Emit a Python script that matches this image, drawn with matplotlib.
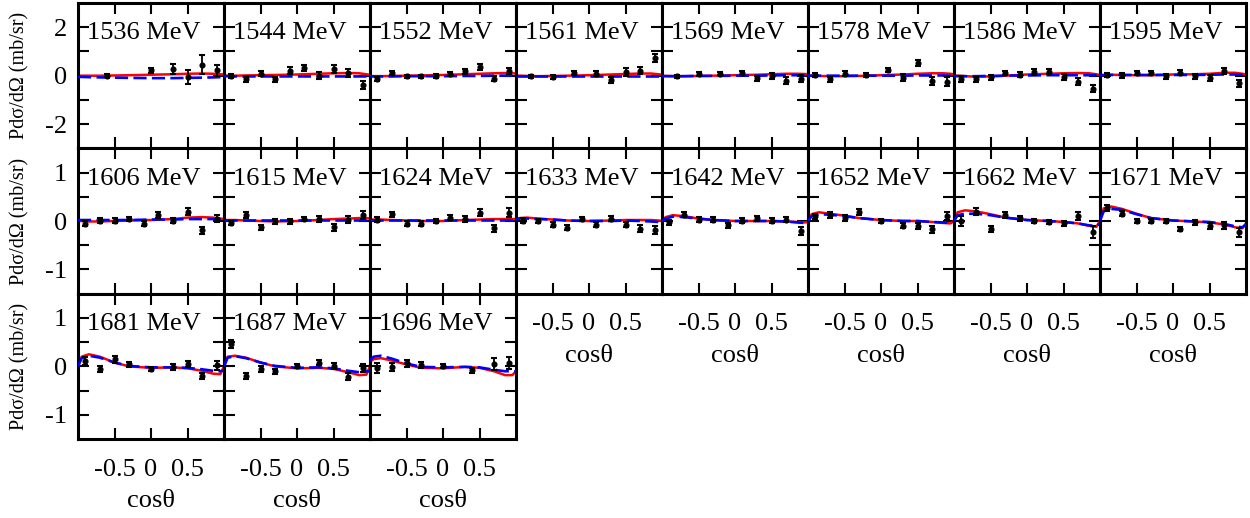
import matplotlib
matplotlib.use('Agg')
import matplotlib.pyplot as plt

plt.rcParams['font.family'] = ['Liberation Serif', 'DejaVu Serif']

# beam energies (MeV), one panel each
energies = [1536, 1544, 1552, 1561, 1569, 1578, 1586, 1595,
            1606, 1615, 1624, 1633, 1642, 1652, 1662, 1671,
            1681, 1687, 1696]

g10 = [-0.9, -0.7, -0.5, -0.3, -0.1, 0.1, 0.3, 0.5, 0.7, 0.9]

# measured points: cos(theta), P dsigma/dOmega, error
data_x = [
    [-0.6, 0.0, 0.3, 0.5, 0.7, 0.9],
    g10,
    g10,
    [-0.8, -0.5, -0.2, 0.1, 0.3, 0.5, 0.7, 0.9],
    [-0.8, -0.5, -0.2, 0.1, 0.3, 0.5, 0.7, 0.9],
    [-0.9, -0.7, -0.5, -0.2, 0.1, 0.3, 0.5, 0.7, 0.9],
    g10,
    g10,
    g10,
    g10,
    g10,
    g10,
    g10,
    [-0.9, -0.7, -0.5, -0.3, 0.0, 0.3, 0.5, 0.7, 0.9],
    g10,
    g10,
    [-0.9, -0.7, -0.5, -0.3, 0.0, 0.3, 0.5, 0.7, 0.9],
    [-0.9, -0.7, -0.5, -0.3, 0.0, 0.3, 0.5, 0.7, 0.9],
    [-0.9, -0.7, -0.5, -0.3, 0.0, 0.4, 0.7, 0.9],
]
data_y = [
    [0.0, 0.22, 0.28, -0.05, 0.46, 0.22],
    [0.0, -0.14, 0.08, -0.14, 0.21, 0.32, 0.0, 0.29, 0.11, -0.37],
    [-0.14, 0.11, -0.03, -0.03, -0.03, 0.08, 0.18, 0.36, -0.12, 0.18],
    [-0.03, -0.07, 0.11, 0.08, -0.17, 0.15, 0.21, 0.74],
    [-0.03, 0.08, 0.08, 0.11, -0.1, 0.0, -0.21, -0.12],
    [0.03, -0.15, 0.08, 0.03, 0.22, -0.08, 0.53, -0.22, -0.24],
    [-0.15, -0.14, -0.06, 0.11, 0.04, 0.14, 0.17, -0.07, -0.24, -0.54],
    [0.03, 0.01, 0.11, 0.11, -0.03, 0.12, -0.03, -0.1, 0.18, -0.31],
    [-0.06, 0.01, 0.01, 0.04, -0.06, 0.13, 0.01, 0.19, -0.19, 0.05],
    [-0.04, 0.13, -0.13, -0.01, -0.01, 0.04, 0.04, -0.13, 0.03, 0.13],
    [0.03, 0.14, -0.06, -0.06, 0.0, 0.07, 0.04, 0.17, -0.15, 0.17],
    [0.01, 0.0, -0.08, -0.14, 0.04, -0.08, 0.05, -0.08, -0.16, -0.19],
    [-0.03, 0.13, 0.03, 0.03, -0.09, 0.01, 0.06, 0.01, 0.03, -0.21],
    [0.1, 0.13, 0.07, 0.18, 0.0, -0.1, -0.11, -0.17, 0.1],
    [0.0, 0.19, -0.16, 0.12, 0.06, 0.0, -0.02, -0.05, 0.1, -0.23],
    [0.27, 0.15, 0.0, 0.0, 0.0, -0.16, -0.03, -0.11, -0.09, -0.23],
    [0.11, -0.06, 0.15, 0.04, -0.05, -0.01, 0.05, -0.2, 0.02],
    [0.46, -0.19, -0.05, -0.1, 0.0, 0.08, 0.0, -0.21, -0.03],
    [-0.03, -0.01, 0.06, 0.03, 0.0, -0.08, 0.05, 0.07],
]
data_err = [
    [0.07, 0.1, 0.22, 0.28, 0.4, 0.24],
    [0.08, 0.1, 0.1, 0.1, 0.13, 0.13, 0.15, 0.17, 0.15, 0.17],
    [0.08, 0.08, 0.07, 0.07, 0.08, 0.08, 0.1, 0.14, 0.1, 0.12],
    [0.06, 0.08, 0.08, 0.1, 0.12, 0.15, 0.15, 0.17],
    [0.06, 0.08, 0.07, 0.1, 0.1, 0.12, 0.15, 0.15],
    [0.08, 0.1, 0.1, 0.1, 0.08, 0.15, 0.12, 0.15, 0.17],
    [0.12, 0.1, 0.1, 0.1, 0.1, 0.12, 0.12, 0.12, 0.15, 0.15],
    [0.1, 0.1, 0.1, 0.1, 0.1, 0.1, 0.1, 0.12, 0.12, 0.15],
    [0.05, 0.05, 0.05, 0.05, 0.05, 0.06, 0.06, 0.07, 0.07, 0.08],
    [0.05, 0.06, 0.05, 0.05, 0.05, 0.05, 0.06, 0.07, 0.07, 0.08],
    [0.05, 0.05, 0.05, 0.05, 0.05, 0.05, 0.06, 0.07, 0.07, 0.09],
    [0.05, 0.05, 0.05, 0.05, 0.05, 0.05, 0.05, 0.05, 0.07, 0.08],
    [0.05, 0.05, 0.06, 0.06, 0.05, 0.05, 0.05, 0.05, 0.06, 0.08],
    [0.05, 0.06, 0.06, 0.06, 0.04, 0.05, 0.06, 0.07, 0.08],
    [0.1, 0.07, 0.06, 0.06, 0.05, 0.05, 0.05, 0.06, 0.08, 0.12],
    [0.06, 0.05, 0.05, 0.05, 0.04, 0.04, 0.05, 0.06, 0.07, 0.09],
    [0.08, 0.06, 0.07, 0.06, 0.04, 0.06, 0.06, 0.07, 0.1],
    [0.08, 0.06, 0.06, 0.05, 0.04, 0.06, 0.06, 0.07, 0.08],
    [0.1, 0.08, 0.07, 0.06, 0.04, 0.05, 0.12, 0.13],
]

# model curves, sampled at curve_x
curve_x = [-1, -0.95, -0.85, -0.7, -0.5, -0.3, 0, 0.3, 0.5, 0.7, 0.85, 0.95, 1]
model_red = [
    [0.0, 0.0, 0.0, 0.0, 0.01, 0.02, 0.04, 0.06, 0.08, 0.09, 0.08, 0.06, 0.05],
    [0.0, 0.0, 0.0, 0.01, 0.02, 0.03, 0.05, 0.08, 0.1, 0.11, 0.1, 0.06, 0.03],
    [-0.02, -0.02, -0.02, -0.01, 0.0, 0.01, 0.03, 0.06, 0.08, 0.1, 0.11, 0.1, 0.09],
    [0.0, 0.0, -0.01, -0.02, -0.01, 0.0, 0.02, 0.05, 0.07, 0.09, 0.09, 0.06, 0.04],
    [0.0, -0.01, -0.02, -0.02, -0.01, 0.0, 0.02, 0.04, 0.06, 0.08, 0.08, 0.07, 0.06],
    [0.0, 0.0, -0.01, -0.02, -0.02, -0.01, 0.02, 0.05, 0.08, 0.1, 0.1, 0.08, 0.05],
    [0.0, 0.0, -0.02, -0.04, -0.03, 0.0, 0.05, 0.08, 0.1, 0.11, 0.1, 0.06, 0.03],
    [0.02, 0.03, 0.04, 0.03, 0.02, 0.02, 0.05, 0.06, 0.08, 0.12, 0.12, 0.08, 0.05],
    [0.0, 0.0, -0.01, -0.01, 0.0, 0.01, 0.02, 0.04, 0.07, 0.08, 0.07, 0.05, 0.04],
    [0.02, 0.02, 0.02, 0.01, 0.0, -0.01, 0.0, 0.02, 0.04, 0.05, 0.06, 0.06, 0.05],
    [0.03, 0.03, 0.03, 0.02, 0.01, 0.0, 0.0, 0.02, 0.03, 0.04, 0.04, 0.04, 0.04],
    [0.04, 0.06, 0.07, 0.05, 0.03, 0.01, 0.0, 0.01, 0.02, 0.02, 0.02, 0.01, 0.0],
    [0.0, 0.08, 0.12, 0.1, 0.05, 0.02, 0.0, 0.0, 0.0, -0.01, -0.02, -0.03, -0.02],
    [0.0, 0.14, 0.18, 0.15, 0.11, 0.06, 0.02, 0.0, 0.0, -0.02, -0.04, -0.05, 0.0],
    [0.0, 0.18, 0.22, 0.2, 0.14, 0.07, 0.02, 0.0, -0.02, -0.05, -0.1, -0.12, 0.0],
    [0.0, 0.26, 0.3, 0.25, 0.15, 0.06, 0.01, -0.01, -0.03, -0.07, -0.13, -0.15, -0.05],
    [0.0, 0.2, 0.25, 0.2, 0.08, 0.0, -0.03, -0.02, -0.04, -0.09, -0.15, -0.16, 0.0],
    [0.0, 0.2, 0.22, 0.18, 0.08, 0.0, -0.04, -0.03, -0.05, -0.12, -0.18, -0.17, 0.0],
    [0.1, 0.15, 0.17, 0.12, 0.04, -0.03, -0.04, -0.01, -0.03, -0.1, -0.18, -0.18, -0.1],
]
model_blue = [
    [-0.05, -0.05, -0.06, -0.07, -0.08, -0.09, -0.1, -0.1, -0.09, -0.08, -0.07, -0.06, -0.05],
    [-0.02, -0.02, -0.03, -0.03, -0.03, -0.03, -0.03, -0.03, -0.03, -0.03, -0.03, -0.03, -0.03],
    [-0.03, -0.03, -0.03, -0.03, -0.02, -0.02, -0.02, -0.01, -0.01, 0.0, 0.0, 0.0, 0.0],
    [-0.02, -0.02, -0.02, -0.02, -0.02, -0.02, -0.02, -0.02, -0.02, -0.02, -0.02, -0.02, -0.02],
    [-0.02, -0.02, -0.02, -0.02, -0.01, -0.01, 0.0, 0.0, 0.01, 0.02, 0.02, 0.02, 0.02],
    [0.0, 0.0, 0.0, 0.0, 0.0, 0.0, 0.0, 0.0, 0.01, 0.01, 0.01, 0.0, 0.0],
    [-0.02, -0.02, -0.02, -0.02, -0.01, 0.0, 0.01, 0.02, 0.02, 0.02, 0.02, 0.02, 0.02],
    [0.02, 0.02, 0.03, 0.03, 0.03, 0.03, 0.03, 0.03, 0.04, 0.05, 0.05, 0.04, 0.04],
    [0.02, 0.02, 0.02, 0.02, 0.02, 0.02, 0.03, 0.03, 0.04, 0.04, 0.04, 0.04, 0.04],
    [0.02, 0.02, 0.02, 0.02, 0.02, 0.02, 0.02, 0.02, 0.02, 0.02, 0.02, 0.02, 0.02],
    [0.02, 0.02, 0.02, 0.02, 0.02, 0.02, 0.02, 0.02, 0.02, 0.02, 0.02, 0.02, 0.02],
    [0.03, 0.05, 0.05, 0.04, 0.03, 0.01, 0.0, 0.0, 0.01, 0.0, -0.01, -0.02, -0.02],
    [0.0, 0.05, 0.09, 0.08, 0.05, 0.02, 0.0, 0.0, 0.0, -0.01, -0.03, -0.04, -0.03],
    [0.0, 0.1, 0.14, 0.13, 0.1, 0.06, 0.02, 0.0, 0.0, -0.02, -0.03, -0.04, -0.02],
    [0.0, 0.12, 0.15, 0.15, 0.12, 0.07, 0.02, 0.0, -0.02, -0.05, -0.09, -0.1, -0.05],
    [0.0, 0.2, 0.25, 0.23, 0.14, 0.06, 0.01, -0.01, -0.02, -0.06, -0.11, -0.13, -0.07],
    [0.0, 0.17, 0.22, 0.18, 0.08, 0.01, -0.02, -0.02, -0.03, -0.06, -0.09, -0.1, -0.08],
    [0.0, 0.18, 0.21, 0.17, 0.08, 0.01, -0.03, -0.02, -0.04, -0.09, -0.12, -0.1, -0.1],
    [0.12, 0.2, 0.22, 0.16, 0.06, -0.01, -0.02, -0.01, -0.02, -0.07, -0.1, -0.1, -0.1],
]

W_PX, H_PX = 1250, 518
fig = plt.figure(figsize=(W_PX / 100, H_PX / 100), dpi=100)

left_px, panel_w = 78, 146
row_top = [3, 148.3, 293.7]
panel_h = 145.4
ncol = 8
fs = 19

for i, e in enumerate(energies):
    row, col = divmod(i, ncol)
    x0 = (left_px + col * panel_w) / W_PX
    y0 = 1 - (row_top[row] + panel_h) / H_PX
    ax = fig.add_axes([x0, y0, panel_w / W_PX, panel_h / H_PX])

    ax.plot(curve_x, model_red[i], color='#ff0000', lw=1.8, zorder=2)
    ax.plot(curve_x, model_blue[i], color='#0000ff', lw=1.9,
            dashes=(5, 2), zorder=3)
    ax.errorbar(data_x[i], data_y[i], yerr=data_err[i], fmt='o', color='black',
                ms=3.4, elinewidth=1.3, capsize=2.2, capthick=1.5, zorder=4)

    ax.set_xlim(-1, 1)
    ax.set_xticks([-0.5, 0, 0.5])
    if row == 0:
        ax.set_ylim(-3, 3)
        ax.set_yticks([-2, -1, 0, 1, 2])
        ax.set_yticklabels(['-2', '', '0', '', '2'])
    else:
        ax.set_ylim(-1.5, 1.5)
        ax.set_yticks([-1, -0.5, 0, 0.5, 1])
        ax.set_yticklabels(['-1', '', '0', '', '1'])

    for sp in ax.spines.values():
        sp.set_linewidth(2.2)
    ax.tick_params(direction='in', length=8, width=1.5, top=True, right=True,
                   labelsize=fs)
    ax.tick_params(axis='y', pad=8)
    ax.tick_params(axis='x', pad=14)

    if col != 0:
        ax.tick_params(labelleft=False)

    bottom_of_column = (i + ncol >= len(energies))
    if bottom_of_column:
        ax.set_xticklabels(['-0.5', '0', '0.5'])
        ax.set_xlabel('cosθ', fontsize=fs, labelpad=7)
    else:
        ax.tick_params(labelbottom=False)

    ax.text(0.065, 0.75, f'{e} MeV', transform=ax.transAxes, fontsize=fs,
            ha='left', va='baseline', zorder=5)

for row in range(3):
    yc = 1 - (row_top[row] + panel_h / 2) / H_PX
    fig.text(20 / W_PX, yc, 'Pdσ/dΩ (mb/sr)', rotation=90, fontsize=14.5,
             ha='center', va='center')

fig.savefig('out.png', dpi=100)
